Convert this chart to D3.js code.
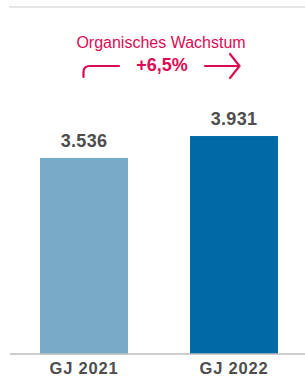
<!DOCTYPE html>
<html>
<head>
<meta charset="utf-8">
<script src="https://cdn.jsdelivr.net/npm/d3@7"></script>
<style>
  body { margin: 0; background: #fff; }
  text { font-family: "Liberation Sans", Arial, sans-serif; }
</style>
</head>
<body>
<svg width="305" height="385"></svg>
<script>
// chart data
const categories = ['GJ 2021', 'GJ 2022']
const values = [3536, 3931]
const valueLabels = ['3.536', '3.931']
const barColors = ['#77abc6', '#006aa7']
const growthTitle = 'Organisches Wachstum'
const growthValue = '+6,5%'

const svg = d3.select('svg')
const width = +svg.attr('width')
const pink = '#dc0a55'

// top rule
svg.append('line')
  .attr('x1', 9).attr('x2', width).attr('y1', 7).attr('y2', 7)
  .style('stroke', '#e6e6e6').style('stroke-width', 2)

const baseY = 354
const x = d3.scaleBand().domain(categories).range([10, 308]).paddingInner(0.4133).paddingOuter(0.2)
const y = d3.scaleLinear().domain([0, 4000]).range([baseY, baseY - 221.8])

// bars
svg.selectAll('.bar')
  .data(values)
  .enter()
  .append('rect')
  .attr('class', 'bar')
  .attr('x', (d, i) => x(categories[i]))
  .attr('width', x.bandwidth())
  .attr('y', (d) => y(d))
  .attr('height', (d) => y(0) - y(d))
  .style('fill', (d, i) => barColors[i])

// value labels
svg.selectAll('.val')
  .data(values)
  .enter()
  .append('text')
  .attr('class', 'val')
  .attr('x', (d, i) => x(categories[i]) + x.bandwidth() / 2)
  .attr('y', (d) => y(d) - 11)
  .attr('text-anchor', 'middle')
  .style('font-size', '18px')
  .style('font-weight', 'bold')
  .style('letter-spacing', '0.3px')
  .style('fill', '#4d4d4d')
  .text((d, i) => valueLabels[i])

// baseline
svg.append('line')
  .attr('x1', 10).attr('x2', width).attr('y1', baseY).attr('y2', baseY)
  .style('stroke', '#bdbdbd').style('stroke-width', 1.5)

// category labels
svg.selectAll('.cat')
  .data(categories)
  .enter()
  .append('text')
  .attr('class', 'cat')
  .attr('x', (d) => x(d) + x.bandwidth() / 2)
  .attr('y', 374)
  .attr('text-anchor', 'middle')
  .style('font-size', '16.5px')
  .style('font-weight', 'bold')
  .style('letter-spacing', '0.8px')
  .style('fill', '#4d4d4d')
  .text((d) => d)

// growth annotation
svg.append('text')
  .attr('x', 161).attr('y', 48)
  .attr('text-anchor', 'middle')
  .style('font-size', '16px')
  .style('fill', pink)
  .text(growthTitle)

svg.append('text')
  .attr('x', 162).attr('y', 71)
  .attr('text-anchor', 'middle')
  .style('font-size', '18px')
  .style('font-weight', 'bold')
  .style('fill', pink)
  .text(growthValue)

const arrow = svg.append('g')
  .style('fill', 'none').style('stroke', pink)
  .style('stroke-width', 2.2).style('stroke-linecap', 'round')
arrow.append('path').attr('d', 'M83.5,77 L83.5,72 Q83.5,66 90,66 L119,66')
arrow.append('path').attr('d', 'M205,66 L238,66')
arrow.append('path').attr('d', 'M230,54 L239.5,66 L230,78')
</script>
</body>
</html>
